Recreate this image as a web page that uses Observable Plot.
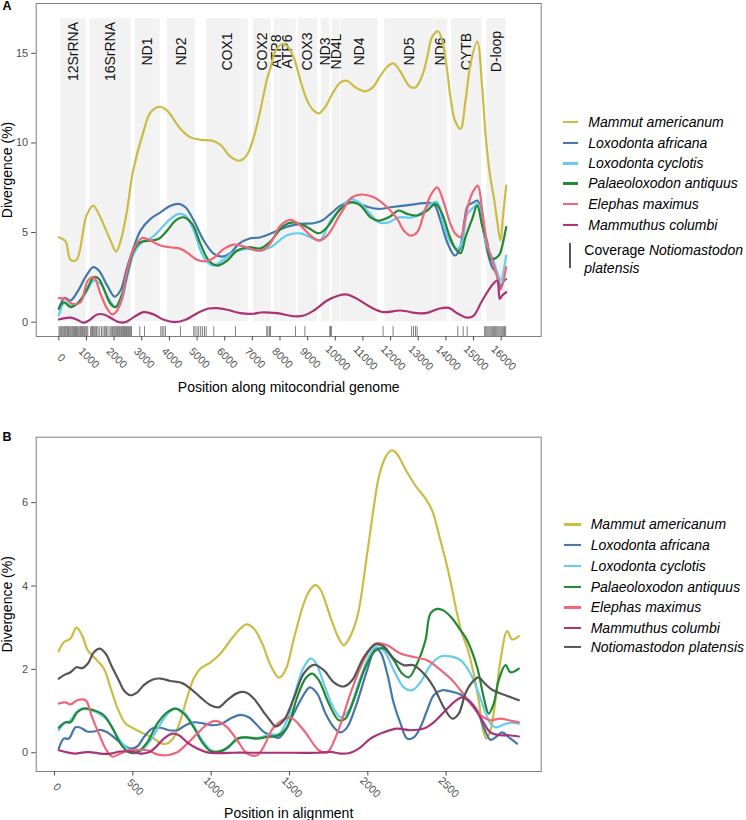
<!DOCTYPE html>
<html><head><meta charset="utf-8">
<script src="https://cdn.jsdelivr.net/npm/d3@7"></script>
<script src="https://cdn.jsdelivr.net/npm/@observablehq/plot@0.6"></script>
<style>
body{margin:0;background:#fff;font-family:"Liberation Sans",Arial,Helvetica,sans-serif;}
#root{position:relative;width:746px;height:820px;overflow:hidden;background:#fff;}
.abs{position:absolute;}
.plab{position:absolute;font-weight:bold;font-size:12.5px;line-height:1;color:#000;}
.leg{position:absolute;display:flex;align-items:center;font-size:14px;white-space:nowrap;transform:translateY(-50%);color:#000;line-height:1.15;}
.key{display:inline-block;height:2.4px;}
</style></head><body><div id="root"></div>
<script>
// ---------- data ----------
const speciesA = ["Mammut americanum","Loxodonta africana","Loxodonta cyclotis","Palaeoloxodon antiquus","Elephas maximus","Mammuthus columbi"];
const speciesB = ["Mammut americanum","Loxodonta africana","Loxodonta cyclotis","Palaeoloxodon antiquus","Elephas maximus","Mammuthus columbi","Notiomastodon platensis"];
const speciesColors = ["#CCBB44","#4477AA","#66CCEE","#228833","#EE6677","#AA3377","#555555"];

const geneNames = ["12SrRNA","16SrRNA","ND1","ND2","COX1","COX2","ATP8","ATP6","COX3","ND3","ND4L","ND4","ND5","ND6","CYTB","D-loop"];
const geneStart = [61,1110,2749,3920,5342,7031,7801,7957,8644,9490,9888,10188,11779,13562,14203,15468];
const geneEnd   = [1002,2629,3678,4950,6861,7693,7957,8597,9382,9801,10188,11552,13562,14083,15313,16181];

const xTicksA = [0,1000,2000,3000,4000,5000,6000,7000,8000,9000,10000,11000,12000,13000,14000,15000,16000];
const yTicksA = [0,5,10,15];
const xTicksB = [0,500,1000,1500,2000,2500];
const yTicksB = [0,2,4,6];

// coverage of Notiomastodon platensis (rug positions)
const coverageA = [10,45,80,110,150,185,215,250,290,320,350,395,430,470,505,540,575,600,640,680,720,760,790,830,860,900,935,975,1010,1050,
  1150,1190,1220,1260,1300,1340,1370,1420,1480,1545,1600,1650,1700,1730,1780,1850,1890,1930,1960,2000,2030,2070,2100,2130,2170,2200,2240,2270,2310,2340,2380,2410,2450,2480,2520,2560,2600,2630,
  2930,3100,3690,3740,3800,3860,4400,4880,4930,5000,5060,5130,5200,5270,5330,5605,6390,7520,7560,7620,7660,8560,8900,9800,9830,9860,
  11730,12090,12760,12830,12900,12960,14430,14625,14770,
  15400,15440,15480,15520,15560,15600,15640,15680,15720,15760,15800,15840,15880,15920,15960,16000,16040,16080,16120,16160];

// Panel A: divergence (%) along the mitochondrial genome
const mammutA = [[0,4.74],[242,4.52],[423,3.48],[640,3.48],[1002,5.95],[1244,6.5],[1447,6.04],[1870,4.55],[2076,3.94],[2257,4.65],[2448,6.04],[2690,8.46],[3074,10.69],[3316,11.7],[3653,12.02],[3920,11.8],[4401,10.78],[4763,10.31],[5125,10.17],[5548,10.13],[5848,9.89],[6209,9.24],[6546,9.01],[6789,9.29],[6994,10.03],[7233,11.43],[7537,13.6],[7657,14.2],[7837,15.14],[8080,15.52],[8260,15.4],[8499,14.77],[8741,13.47],[8984,12.36],[9222,11.8],[9403,11.65],[9645,12.02],[9888,12.73],[10188,13.38],[10430,13.47],[10731,13.1],[11092,12.88],[11335,13.07],[11635,13.75],[11877,14.25],[12094,14.44],[12297,14.12],[12477,13.66],[12694,13.14],[12900,13.1],[13143,13.75],[13324,14.77],[13505,15.93],[13721,16.22],[13866,15.7],[14047,14.03],[14166,12.54],[14322,11.28],[14528,10.78],[14709,12.36],[14890,14.4],[15132,15.66],[15313,13.1],[15432,10.5],[15588,8.27],[15732,6.97],[15855,5.67],[15974,4.55],[16072,6.04],[16181,7.62]];
const africanaA = [[0,0.75],[217,1.36],[423,1.21],[665,1.67],[965,2.51],[1244,3.07],[1447,2.88],[1750,2.05],[2014,1.43],[2231,1.77],[2474,3.07],[2712,4.18],[2955,5.11],[3316,5.76],[3678,6.13],[4040,6.5],[4340,6.6],[4582,6.41],[4882,5.67],[5244,4.55],[5606,3.81],[5909,3.66],[6209,3.85],[6510,4.37],[6872,4.65],[7295,4.74],[7776,5.02],[8260,5.33],[8741,5.48],[9222,5.52],[9526,5.67],[9826,6.04],[10188,6.5],[10488,6.69],[10850,6.6],[11211,6.41],[11573,6.32],[11996,6.41],[12477,6.5],[12962,6.6],[13324,6.66],[13562,6.6],[13804,5.67],[14047,4.46],[14322,3.72],[14503,4.09],[14673,5.67],[14792,6.5],[15009,6.69],[15154,6.78],[15313,5.48],[15494,4.0],[15675,3.07],[15855,2.7],[15974,1.95],[16094,2.3],[16181,2.4]];
const cyclotisA = [[0,0.37],[217,1.11],[423,0.93],[723,1.06],[1027,1.77],[1266,2.32],[1508,2.14],[1808,1.3],[2051,0.84],[2231,1.03],[2474,2.51],[2712,3.81],[3016,4.46],[3378,4.74],[3678,5.2],[4040,5.76],[4340,6.04],[4582,5.95],[4882,5.11],[5125,4.0],[5367,3.34],[5606,3.16],[5909,3.44],[6329,3.9],[6814,4.09],[7233,4.0],[7656,4.18],[8260,4.85],[8741,4.95],[9222,4.65],[9465,4.6],[9826,5.67],[10250,6.41],[10550,6.88],[10850,6.69],[11211,6.13],[11573,5.57],[11935,5.57],[12296,5.85],[12781,5.85],[13143,6.13],[13443,6.6],[13685,6.69],[13924,5.39],[14166,4.46],[14409,4.09],[14589,4.46],[14770,6.04],[15009,6.41],[15154,6.6],[15313,5.48],[15494,4.18],[15674,3.62],[15855,2.79],[15974,2.32],[16181,3.72]];
const antiquusA = [[0,0.75],[181,1.11],[423,0.84],[665,1.03],[965,1.67],[1266,2.51],[1447,2.42],[1627,1.86],[1870,1.03],[2051,0.84],[2293,1.58],[2532,3.07],[2712,4.0],[2955,4.46],[3316,4.55],[3617,4.65],[3920,5.11],[4220,5.67],[4521,5.85],[4824,5.48],[5125,4.37],[5425,3.44],[5729,3.16],[6090,3.44],[6452,4.0],[6872,4.18],[7295,4.12],[7656,4.5],[8137,5.39],[8499,5.57],[8984,5.3],[9403,4.96],[9707,5.3],[10188,6.32],[10611,6.69],[10911,6.5],[11273,5.85],[11573,5.67],[11935,5.85],[12296,6.23],[12600,6.04],[12962,5.95],[13324,6.23],[13624,6.6],[13866,6.04],[14105,4.93],[14347,4.09],[14528,3.85],[14709,4.74],[14951,5.76],[15132,6.5],[15313,5.39],[15494,4.46],[15613,3.53],[15732,3.53],[15913,3.72],[15974,3.9],[16181,5.3]];
const maximusA = [[0,1.34],[242,1.3],[485,1.03],[785,1.11],[1049,2.32],[1266,2.51],[1508,1.58],[1750,0.75],[1931,0.43],[2112,0.65],[2293,1.39],[2474,2.88],[2712,4.09],[3016,4.7],[3316,4.55],[3678,4.28],[4040,4.18],[4401,4.09],[4702,3.81],[5005,3.48],[5306,3.4],[5606,3.59],[5967,4.09],[6329,4.33],[6691,4.22],[7052,4.04],[7356,4.0],[7656,4.4],[8018,5.39],[8380,5.71],[8741,5.39],[9103,4.83],[9403,4.55],[9707,4.83],[10188,6.04],[10611,6.97],[10911,7.12],[11392,6.97],[11877,6.41],[12239,5.76],[12477,5.11],[12719,4.83],[12962,5.02],[13201,6.04],[13443,7.06],[13685,7.52],[13902,6.78],[14166,5.48],[14347,4.93],[14528,4.74],[14770,6.32],[14951,7.19],[15154,7.62],[15313,6.23],[15494,4.37],[15674,3.44],[15855,2.51],[15974,1.81],[16181,3.07]];
const columbiA = [[0,0.15],[423,0.25],[665,0.13],[882,-0.03],[1085,0.09],[1389,0.43],[1627,0.43],[1931,0.19],[2170,0.0],[2412,0.0],[2712,0.28],[3074,0.56],[3436,0.43],[3797,0.13],[4220,0.0],[4582,0.13],[5005,0.5],[5425,0.76],[5729,0.78],[6090,0.69],[6571,0.5],[7052,0.47],[7295,0.54],[7899,0.5],[8499,0.33],[8861,0.37],[9222,0.65],[9707,1.21],[10126,1.49],[10430,1.54],[10792,1.3],[11273,0.84],[11754,0.56],[12358,0.65],[12962,0.5],[13324,0.52],[13743,0.75],[14105,0.8],[14409,0.5],[14770,0.25],[15009,0.37],[15251,1.03],[15494,1.67],[15711,2.14],[15855,2.32],[15949,1.3],[16036,1.49],[16181,1.67]];

// Panel B: divergence (%) along the alignment
const mammutB = [[27,2.44],[59,2.65],[102,2.74],[140,3.0],[177,2.81],[213,2.45],[273,2.21],[315,2.02],[357,1.57],[400,1.09],[453,0.7],[506,0.58],[570,0.46],[634,0.34],[677,0.23],[719,0.22],[761,0.37],[804,0.78],[847,1.33],[889,1.78],[932,2.02],[996,2.17],[1060,2.38],[1123,2.7],[1187,2.98],[1226,3.08],[1272,2.98],[1326,2.62],[1379,2.1],[1432,1.8],[1474,1.98],[1527,2.72],[1591,3.58],[1630,3.9],[1666,4.02],[1698,3.91],[1762,3.25],[1815,2.74],[1847,2.58],[1878,2.72],[1932,3.25],[1996,4.78],[2038,5.89],[2070,6.61],[2113,7.09],[2149,7.25],[2177,7.21],[2251,6.73],[2304,6.41],[2368,6.1],[2411,5.81],[2464,5.09],[2517,4.3],[2570,3.34],[2602,2.85],[2634,2.53],[2676,1.9],[2708,1.26],[2736,0.54],[2757,0.34],[2783,0.54],[2815,1.26],[2847,2.22],[2890,2.92],[2921,2.72],[2964,2.8]];
const africanaB = [[27,0.1],[59,0.34],[91,0.34],[134,0.61],[166,0.6],[209,0.51],[251,0.51],[294,0.55],[336,0.49],[389,0.34],[442,0.18],[485,0.1],[528,0.15],[570,0.37],[624,0.58],[677,0.6],[730,0.54],[783,0.54],[836,0.66],[889,0.73],[953,0.7],[1017,0.66],[1070,0.7],[1123,0.82],[1187,0.91],[1240,0.85],[1294,0.66],[1336,0.5],[1379,0.42],[1432,0.36],[1474,0.54],[1527,0.94],[1581,1.33],[1630,1.57],[1677,1.42],[1730,0.94],[1783,0.61],[1826,0.49],[1868,0.61],[1921,1.09],[1996,1.98],[2049,2.5],[2081,2.41],[2124,1.9],[2166,1.18],[2209,0.7],[2251,0.34],[2293,0.37],[2336,0.61],[2379,1.02],[2421,1.38],[2475,1.5],[2528,1.47],[2592,1.4],[2645,1.26],[2698,1.02],[2740,0.61],[2783,0.31],[2815,0.37],[2858,0.49],[2900,0.37],[2953,0.22]];
const cyclotisB = [[27,0.54],[59,0.7],[102,0.78],[134,0.95],[177,1.06],[230,1.02],[283,0.94],[336,0.78],[389,0.46],[442,0.18],[496,0.04],[549,0.04],[613,0.3],[677,0.7],[730,0.97],[772,1.06],[825,0.97],[879,0.7],[943,0.3],[996,0.07],[1049,0.01],[1102,0.1],[1144,0.25],[1198,0.37],[1262,0.34],[1315,0.37],[1379,0.44],[1432,0.45],[1485,0.78],[1527,1.33],[1591,2.05],[1634,2.26],[1666,2.17],[1719,1.66],[1773,1.14],[1826,0.85],[1878,1.02],[1932,1.57],[1996,2.22],[2049,2.53],[2102,2.45],[2166,1.98],[2230,1.57],[2283,1.5],[2336,1.69],[2400,2.1],[2464,2.31],[2528,2.31],[2592,2.22],[2655,1.9],[2708,1.42],[2751,0.97],[2783,0.7],[2815,0.61],[2858,0.66],[2911,0.72],[2964,0.7]];
const antiquusB = [[27,0.6],[70,0.73],[102,0.73],[145,0.97],[187,1.06],[251,1.02],[315,0.9],[368,0.61],[421,0.22],[474,0.01],[528,0.01],[592,0.25],[656,0.7],[719,0.97],[772,1.06],[825,0.94],[889,0.61],[943,0.25],[996,0.04],[1060,0.04],[1113,0.15],[1166,0.34],[1230,0.37],[1294,0.34],[1358,0.38],[1432,0.42],[1485,0.61],[1549,1.33],[1602,1.78],[1645,1.9],[1687,1.74],[1751,1.18],[1815,0.78],[1857,0.82],[1910,1.26],[1985,2.05],[2049,2.45],[2102,2.5],[2166,2.22],[2219,1.9],[2262,1.81],[2315,2.14],[2368,2.7],[2400,3.34],[2443,3.45],[2485,3.41],[2539,3.22],[2592,2.94],[2634,2.7],[2698,2.05],[2740,1.33],[2772,0.94],[2804,1.18],[2836,1.74],[2879,2.1],[2911,1.93],[2964,2.02]];
const maximusB = [[27,1.18],[70,1.21],[102,1.16],[145,1.26],[198,1.26],[240,0.85],[283,0.46],[326,0.1],[368,-0.09],[421,-0.02],[474,0.06],[528,0.07],[592,0.06],[656,-0.04],[719,-0.06],[783,0.01],[847,0.22],[911,0.46],[985,0.71],[1038,0.76],[1102,0.61],[1166,0.3],[1230,-0.02],[1294,-0.06],[1336,0.15],[1400,0.61],[1506,0.84],[1591,0.54],[1687,0.06],[1741,0.01],[1804,0.46],[1889,1.42],[1974,2.22],[2049,2.62],[2124,2.58],[2209,2.38],[2315,2.28],[2379,2.22],[2443,2.05],[2528,1.78],[2592,1.5],[2655,1.18],[2719,0.9],[2783,0.78],[2847,0.82],[2900,0.78],[2964,0.73]];
const columbiB = [[27,0.06],[80,0.01],[134,-0.02],[187,0.01],[241,0.01],[294,-0.02],[357,-0.02],[421,0.03],[485,0.03],[549,-0.02],[602,0.01],[645,0.13],[698,0.34],[751,0.46],[794,0.42],[847,0.25],[911,0.1],[975,0.01],[1060,-0.01],[1144,0.0],[1251,0.0],[1379,0.0],[1527,0.0],[1677,0.0],[1762,0.02],[1826,-0.02],[1889,0.0],[1953,0.13],[2017,0.34],[2102,0.49],[2187,0.58],[2272,0.54],[2357,0.58],[2421,0.73],[2485,0.97],[2549,1.21],[2602,1.33],[2655,1.21],[2719,0.85],[2783,0.49],[2847,0.42],[2900,0.42],[2964,0.39]];
const platensisB = [[27,1.78],[70,1.88],[102,1.93],[140,2.05],[177,2.03],[213,2.14],[251,2.41],[289,2.5],[326,2.38],[368,2.05],[410,1.74],[442,1.5],[485,1.38],[528,1.45],[570,1.62],[624,1.75],[677,1.78],[740,1.72],[815,1.67],[868,1.54],[932,1.33],[996,1.14],[1049,1.09],[1102,1.26],[1166,1.43],[1219,1.45],[1272,1.3],[1336,0.97],[1379,0.76],[1411,0.63],[1464,0.78],[1527,1.3],[1591,1.9],[1655,2.11],[1719,1.98],[1783,1.69],[1847,1.59],[1900,1.74],[1974,2.29],[2049,2.6],[2102,2.55],[2166,2.26],[2230,2.1],[2293,2.1],[2357,1.9],[2421,1.57],[2485,1.09],[2539,0.82],[2581,0.94],[2623,1.42],[2666,1.69],[2708,1.81],[2740,1.69],[2783,1.54],[2826,1.45],[2879,1.38],[2921,1.32],[2964,1.26]];

// ---------- build ----------
const FONT = '"Liberation Sans", Arial, Helvetica, sans-serif';
const TICK = "#4d4d4d";
const rowsOf = (names, series) => names.flatMap((name, i) => series[i].map(([x, y]) => ({species: name, x, y})));
const rowsA = rowsOf(speciesA, [mammutA, africanaA, cyclotisA, antiquusA, maximusA, columbiA]);
const rowsB = rowsOf(speciesB, [mammutB, africanaB, cyclotisB, antiquusB, maximusB, columbiB, platensisB]);
const genes = geneNames.map((name, i) => ({name, start: geneStart[i], end: geneEnd[i]}));

function axes(xTicks, yTicks, labelDy, xTitle, xTitleDy) {
  return [
    Plot.axisY({ticks: yTicks, tickSize: 4.5, tickPadding: 3.5, color: TICK, fontSize: 11, tickFormat: d => String(d), label: null}),
    Plot.axisX({ticks: xTicks, tickSize: 4.5, color: TICK, tickFormat: () => "", label: null}),
    Plot.text(xTicks, {x: d => d, text: d => String(d), frameAnchor: "bottom", rotate: 45, textAnchor: "middle", lineAnchor: "middle",
      dx: 2.5, dy: labelDy, fill: TICK, fontSize: 10.8}),
    Plot.text(["Divergence (%)"], {text: d => d, frameAnchor: "left", textAnchor: "middle", lineAnchor: "middle",
      dx: -28.5, rotate: -90, fontSize: 14, fill: "#000"}),
    Plot.text([xTitle], {text: d => d, frameAnchor: "bottom", textAnchor: "middle", lineAnchor: "middle",
      dy: xTitleDy, fontSize: 14, fill: "#000"})
  ];
}

const root = document.getElementById("root");

const plotA = Plot.plot({
  width: 746, height: 400,
  marginLeft: 35.7, marginRight: 205.3, marginTop: 3, marginBottom: 64,
  style: {fontFamily: FONT, fontSize: "11px", background: "transparent", overflow: "visible"},
  x: {domain: [-817, 17447]},
  y: {domain: [-0.8, 17.78]},
  color: {domain: speciesA, range: speciesColors.slice(0, 6)},
  marks: [
    Plot.rect(genes, {x1: "start", x2: "end", y1: 0, y2: 16.95, fill: "#f2f2f2", stroke: "#ffffff", strokeWidth: 0.6}),
    Plot.text(genes, {x: d => (d.start + d.end) / 2, y: 15.1, text: "name", rotate: -90, fontSize: 14, fill: "#111"}),
    Plot.ruleX(coverageA, {y1: -0.8, y2: -0.25, stroke: "#4d4d4d", strokeOpacity: 0.7, strokeWidth: 1}),
    Plot.line(rowsA, {x: "x", y: "y", z: "species", stroke: "species", strokeWidth: 2.2, curve: "catmull-rom"}),
    Plot.frame({stroke: "#7f7f7f", strokeWidth: 1}),
    ...axes(xTicksA, yTicksA, 21.5, "Position along mitocondrial genome", 51)
  ]
});
plotA.style.position = "absolute"; plotA.style.left = "0px"; plotA.style.top = "0px";
root.appendChild(plotA);

const plotB = Plot.plot({
  width: 746, height: 420,
  marginLeft: 35.7, marginRight: 205.3, marginTop: 36.7, marginBottom: 49,
  style: {fontFamily: FONT, fontSize: "11px", background: "transparent", overflow: "visible"},
  x: {domain: [-117, 3107]},
  y: {domain: [-0.45, 7.57]},
  color: {domain: speciesB, range: speciesColors},
  marks: [
    Plot.line(rowsB, {x: "x", y: "y", z: "species", stroke: "species", strokeWidth: 2.2, curve: "catmull-rom"}),
    Plot.frame({stroke: "#7f7f7f", strokeWidth: 1}),
    ...axes(xTicksB, yTicksB, 15.7, "Position in alignment", 41.7)
  ]
});
plotB.style.position = "absolute"; plotB.style.left = "0px"; plotB.style.top = "400px";
root.appendChild(plotB);

// panel letters
function addDiv(cls, html, left, top) {
  const d = document.createElement("div");
  d.className = cls; d.innerHTML = html;
  d.style.left = left + "px"; d.style.top = top + "px";
  root.appendChild(d);
  return d;
}
addDiv("plab", "A", 2.5, 0);
addDiv("plab", "B", 2.5, 431);

// legends
function legend(names, rowYs, keyLeft, keyW, textLeft) {
  names.forEach((name, i) => {
    const d = addDiv("leg", "", keyLeft, rowYs[i]);
    const k = document.createElement("span");
    k.className = "key";
    k.style.width = keyW + "px";
    k.style.background = speciesColors[i];
    k.style.marginRight = (textLeft - keyLeft - keyW) + "px";
    const t = document.createElement("i");
    t.textContent = name;
    d.appendChild(k); d.appendChild(t);
  });
}
legend(speciesA, [121.7,142.7,163.3,183.3,204,225], 562.7, 15.5, 588.3);
legend(speciesB, [524.3,545,565.7,586.7,607.3,627.7,647], 564, 16.8, 590.7);

// coverage legend entry (panel A)
const bar = document.createElement("div");
bar.className = "abs";
Object.assign(bar.style, {left: "569px", top: "243px", width: "2px", height: "25px", background: "#555"});
root.appendChild(bar);
const cov = addDiv("abs", 'Coverage <i>Notiomastodon</i><br><i>platensis</i>', 584.3, 241);
Object.assign(cov.style, {fontSize: "14px", lineHeight: "18px", color: "#000", whiteSpace: "nowrap"});
</script></body></html>
